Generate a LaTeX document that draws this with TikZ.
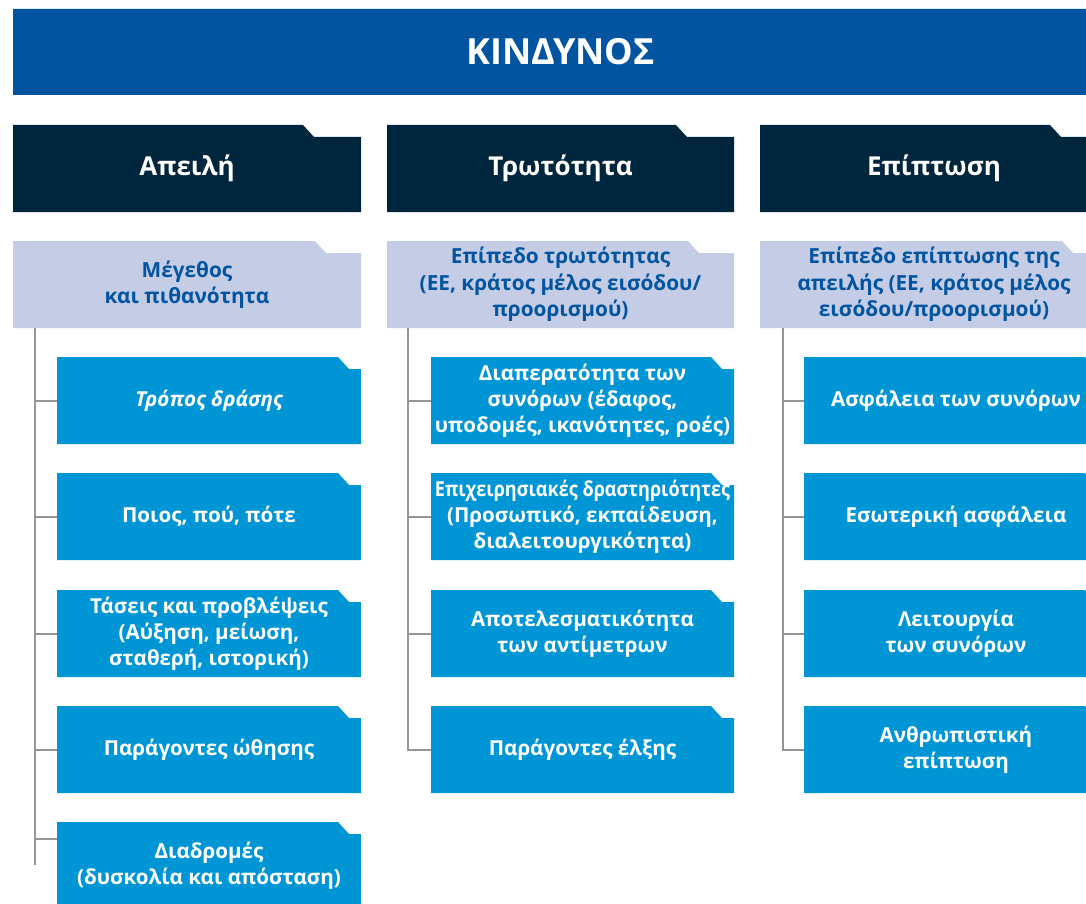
\documentclass[tikz,border=0pt]{standalone}
\usepackage{fontspec}
\setmainfont{Open Sans}
\definecolor{titleblue}{RGB}{0,84,160}
\definecolor{navy}{RGB}{0,38,62}
\definecolor{lav}{RGB}{197,205,230}
\definecolor{lavtext}{RGB}{0,84,160}
\definecolor{cyanb}{RGB}{0,150,214}
\definecolor{linegray}{RGB}{147,149,152}
\newcommand{\notchbox}[8]{%
  \fill[#7] (#2,#3) -- ({#4-#6},#3) -- ({#4-#6+11},{#3+12}) -- (#4,{#3+12}) -- (#4,#5) -- (#2,#5) -- cycle;
  \node[#7 text, minimum width={#4-#2}, minimum height={#5-#3}] (#1) at ({(#2+#4)/2},{(#3+#5)/2}) {#8};
}
\tikzset{
  titlebox/.style={fill=titleblue},
  titlebox text/.style={inner sep=0pt, text=white, align=center, font=\bfseries\fontsize{36}{40}\selectfont},
  headbox/.style={fill=navy},
  headbox text/.style={inner sep=0pt, text=white, align=center, font=\bfseries\fontsize{26}{30}\selectfont},
  lavbox/.style={fill=lav},
  lavbox text/.style={inner sep=0pt, text=lavtext, align=center, font=\bfseries\fontsize{20.8}{26.5}\selectfont},
  itembox/.style={fill=cyanb},
  itembox text/.style={inner sep=0pt, text=white, align=center, font=\bfseries\fontsize{20.6}{26}\selectfont},
  conn/.style={draw=linegray, line width=2pt},
}
\begin{document}
\begin{tikzpicture}[x=1pt,y=-1pt]
\useasboundingbox (0,0) rectangle (1086,904);
\clip (0,0) rectangle (1086,904);
% title
\notchbox{title}{13}{9}{1108}{95}{-20}{titlebox}{ΚΙΝΔΥΝΟΣ}
% headers
\notchbox{h1}{13}{125}{361}{212}{58}{headbox}{Απειλή}
\notchbox{h2}{387}{125}{734}{212}{58}{headbox}{Τρωτότητα}
\notchbox{h3}{760}{125}{1108}{212}{58}{headbox}{Επίπτωση}
% level 2
\notchbox{l1}{13}{241}{361}{328}{46}{lavbox}{Μέγεθος\\και πιθανότητα}
\notchbox{l2}{387}{241}{734}{328}{46}{lavbox}{Επίπεδο τρωτότητας\\(ΕΕ, κράτος μέλος εισόδου/\\προορισμού)}
\notchbox{l3}{760}{241}{1108}{328}{46}{lavbox}{Επίπεδο επίπτωσης της\\απειλής (ΕΕ, κράτος μέλος\\εισόδου/προορισμού)}
% column 1 items
\notchbox{a1}{57}{357}{361}{444}{23}{itembox}{\itshape Τρόπος δράσης}
\notchbox{a2}{57}{473}{361}{560}{23}{itembox}{Ποιος, πού, πότε}
\notchbox{a3}{57}{590}{361}{677}{23}{itembox}{Τάσεις και προβλέψεις\\(Αύξηση, μείωση,\\σταθερή, ιστορική)}
\notchbox{a4}{57}{706}{361}{793}{23}{itembox}{Παράγοντες ώθησης}
\notchbox{a5}{57}{822}{361}{909}{23}{itembox}{Διαδρομές\\(δυσκολία και απόσταση)}
% column 2 items
\notchbox{b1}{431}{357}{734}{444}{23}{itembox}{Διαπερατότητα των\\συνόρων (έδαφος,\\υποδομές, ικανότητες, ροές)}
\notchbox{b2}{431}{473}{734}{560}{23}{itembox}{\scalebox{0.877}[1]{Επιχειρησιακές δραστηριότητες}\\(Προσωπικό, εκπαίδευση,\\διαλειτουργικότητα)}
\notchbox{b3}{431}{590}{734}{677}{23}{itembox}{Αποτελεσματικότητα\\των αντίμετρων}
\notchbox{b4}{431}{706}{734}{793}{23}{itembox}{Παράγοντες έλξης}
% column 3 items
\notchbox{c1}{804}{357}{1108}{444}{23}{itembox}{Ασφάλεια των συνόρων}
\notchbox{c2}{804}{473}{1108}{560}{23}{itembox}{Εσωτερική ασφάλεια}
\notchbox{c3}{804}{590}{1108}{677}{23}{itembox}{Λειτουργία\\των συνόρων}
\notchbox{c4}{804}{706}{1108}{793}{23}{itembox}{Ανθρωπιστική\\επίπτωση}
% connectors
\coordinate (v1) at (35,328);
\coordinate (v1end) at (35,865);
\coordinate (a5b) at (57,839);
\draw[conn] (v1) -- (v1end);
\draw[conn] (a1.west) -- (a1.west -| v1);
\draw[conn] (a2.west) -- (a2.west -| v1);
\draw[conn] (a3.west) -- (a3.west -| v1);
\draw[conn] (a4.west) -- (a4.west -| v1);
\draw[conn] (a5b) -- (a5b -| v1);
\coordinate (v2) at (408,328);
\draw[conn] (v2) |- (b4.west);
\draw[conn] (b1.west) -- (b1.west -| v2);
\draw[conn] (b2.west) -- (b2.west -| v2);
\draw[conn] (b3.west) -- (b3.west -| v2);
\coordinate (v3) at (783,328);
\draw[conn] (v3) |- (c4.west);
\draw[conn] (c1.west) -- (c1.west -| v3);
\draw[conn] (c2.west) -- (c2.west -| v3);
\draw[conn] (c3.west) -- (c3.west -| v3);
\end{tikzpicture}
\end{document}
